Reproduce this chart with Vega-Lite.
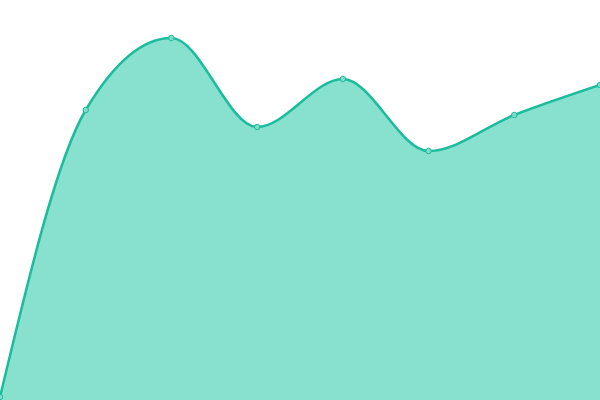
{
  "$schema": "https://vega.github.io/schema/vega-lite/v6.json",
  "autosize": {"type": "none"},
  "width": 600,
  "height": 400,
  "padding": 0,
  "view": {"stroke": null},
  "data": {
    "values": [
      {"i": 0, "v": 3},
      {"i": 1, "v": 290},
      {"i": 2, "v": 362},
      {"i": 3, "v": 273},
      {"i": 4, "v": 321},
      {"i": 5, "v": 249},
      {"i": 6, "v": 285},
      {"i": 7, "v": 315}
    ]
  },
  "encoding": {
    "x": {"field": "i", "type": "quantitative", "axis": null, "scale": {"domain": [0, 7], "nice": false}},
    "y": {"field": "v", "type": "quantitative", "axis": null, "scale": {"domain": [0, 400], "nice": false}}
  },
  "layer": [
    {"mark": {"type": "area", "interpolate": "monotone", "color": "#88e0cf", "opacity": 1}},
    {"mark": {"type": "line", "interpolate": "monotone", "color": "#1abc9c", "strokeWidth": 2.5}},
    {"mark": {"type": "point", "filled": true, "fill": "#7fdcc9", "stroke": "#1abc9c", "strokeWidth": 1, "size": 30, "opacity": 1}}
  ]
}
